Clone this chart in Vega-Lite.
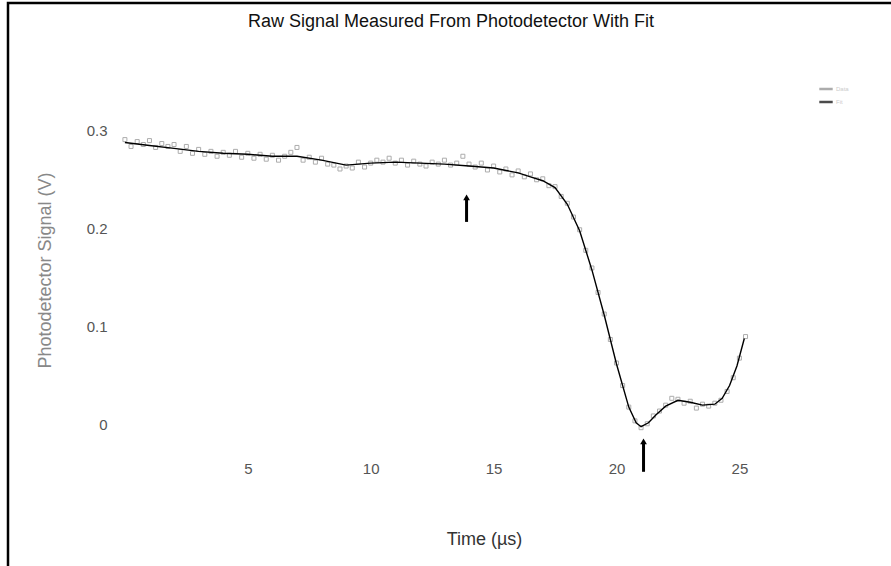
{
  "$schema": "https://vega.github.io/schema/vega-lite/v6.json",
  "width": 886,
  "height": 566,
  "autosize": {"type": "none"},
  "padding": {"left": 8, "top": 3, "right": 0, "bottom": 0},
  "background": "white",
  "title": {
    "text": "Raw Signal Measured From Photodetector With Fit",
    "font": "Liberation Sans",
    "fontSize": 18,
    "fontWeight": "normal",
    "color": "#111111",
    "anchor": "middle",
    "frame": "group",
    "offset": -22,
    "dy": 20,
    "baseline": "alphabetic"
  },
  "config": {
    "view": {"stroke": "black", "strokeWidth": 2.5, "fill": "white"},
    "axis": {"grid": false, "domain": false, "ticks": false, "tickSize": 0,
      "labelFont": "Liberation Sans", "labelFontSize": 15, "labelColor": "#555555",
      "titleFont": "Liberation Sans", "titleFontSize": 18, "titleFontWeight": "normal", "titleColor": "#555555"}
  },
  "datasets": {
    "obs": [
      {"t": 0.00, "v": 0.291}, {"t": 0.25, "v": 0.284}, {"t": 0.50, "v": 0.289}, {"t": 0.75, "v": 0.286},
      {"t": 1.00, "v": 0.290}, {"t": 1.25, "v": 0.283}, {"t": 1.50, "v": 0.287}, {"t": 1.75, "v": 0.284},
      {"t": 2.00, "v": 0.286}, {"t": 2.25, "v": 0.279}, {"t": 2.50, "v": 0.284}, {"t": 2.75, "v": 0.277},
      {"t": 3.00, "v": 0.281}, {"t": 3.25, "v": 0.276}, {"t": 3.50, "v": 0.279}, {"t": 3.75, "v": 0.274},
      {"t": 4.00, "v": 0.278}, {"t": 4.25, "v": 0.275}, {"t": 4.50, "v": 0.279}, {"t": 4.75, "v": 0.273},
      {"t": 5.00, "v": 0.277}, {"t": 5.25, "v": 0.272}, {"t": 5.50, "v": 0.276}, {"t": 5.75, "v": 0.271},
      {"t": 6.00, "v": 0.275}, {"t": 6.25, "v": 0.270}, {"t": 6.50, "v": 0.274}, {"t": 6.75, "v": 0.278},
      {"t": 7.00, "v": 0.283}, {"t": 7.25, "v": 0.270}, {"t": 7.50, "v": 0.273}, {"t": 7.75, "v": 0.268},
      {"t": 8.00, "v": 0.272}, {"t": 8.25, "v": 0.266}, {"t": 8.50, "v": 0.265}, {"t": 8.75, "v": 0.261},
      {"t": 9.00, "v": 0.264}, {"t": 9.25, "v": 0.262}, {"t": 9.50, "v": 0.268}, {"t": 9.75, "v": 0.263},
      {"t": 10.00, "v": 0.267}, {"t": 10.25, "v": 0.270}, {"t": 10.50, "v": 0.268}, {"t": 10.75, "v": 0.272},
      {"t": 11.00, "v": 0.267}, {"t": 11.25, "v": 0.270}, {"t": 11.50, "v": 0.265}, {"t": 11.75, "v": 0.269},
      {"t": 12.00, "v": 0.266}, {"t": 12.25, "v": 0.264}, {"t": 12.50, "v": 0.268}, {"t": 12.75, "v": 0.266},
      {"t": 13.00, "v": 0.270}, {"t": 13.25, "v": 0.265}, {"t": 13.50, "v": 0.267}, {"t": 13.75, "v": 0.274},
      {"t": 14.00, "v": 0.266}, {"t": 14.25, "v": 0.263}, {"t": 14.50, "v": 0.267}, {"t": 14.75, "v": 0.260},
      {"t": 15.00, "v": 0.264}, {"t": 15.25, "v": 0.258}, {"t": 15.50, "v": 0.261}, {"t": 15.75, "v": 0.255},
      {"t": 16.00, "v": 0.259}, {"t": 16.25, "v": 0.253}, {"t": 16.50, "v": 0.256}, {"t": 16.75, "v": 0.250},
      {"t": 17.00, "v": 0.251}, {"t": 17.25, "v": 0.244}, {"t": 17.50, "v": 0.243}, {"t": 17.75, "v": 0.233},
      {"t": 18.00, "v": 0.226}, {"t": 18.25, "v": 0.212}, {"t": 18.50, "v": 0.199}, {"t": 18.75, "v": 0.178},
      {"t": 19.00, "v": 0.160}, {"t": 19.25, "v": 0.135}, {"t": 19.50, "v": 0.113}, {"t": 19.75, "v": 0.087},
      {"t": 20.00, "v": 0.063}, {"t": 20.25, "v": 0.040}, {"t": 20.50, "v": 0.018}, {"t": 20.75, "v": 0.004},
      {"t": 21.00, "v": -0.003}, {"t": 21.25, "v": 0.001}, {"t": 21.50, "v": 0.009}, {"t": 21.75, "v": 0.014},
      {"t": 22.00, "v": 0.020}, {"t": 22.25, "v": 0.027}, {"t": 22.50, "v": 0.026}, {"t": 22.75, "v": 0.022},
      {"t": 23.00, "v": 0.024}, {"t": 23.25, "v": 0.017}, {"t": 23.50, "v": 0.021}, {"t": 23.75, "v": 0.019},
      {"t": 24.00, "v": 0.022}, {"t": 24.25, "v": 0.025}, {"t": 24.50, "v": 0.034}, {"t": 24.75, "v": 0.048},
      {"t": 25.00, "v": 0.068}, {"t": 25.25, "v": 0.090}
    ],
    "fit": [
      {"t": 0, "v": 0.288}, {"t": 1, "v": 0.285}, {"t": 2, "v": 0.282}, {"t": 3, "v": 0.279},
      {"t": 4, "v": 0.277}, {"t": 5, "v": 0.276}, {"t": 6, "v": 0.274}, {"t": 7, "v": 0.274},
      {"t": 8, "v": 0.270}, {"t": 9, "v": 0.265}, {"t": 10, "v": 0.267}, {"t": 11, "v": 0.268},
      {"t": 12, "v": 0.267}, {"t": 13, "v": 0.266}, {"t": 14, "v": 0.264}, {"t": 15, "v": 0.262},
      {"t": 16, "v": 0.257}, {"t": 16.5, "v": 0.253}, {"t": 17, "v": 0.249}, {"t": 17.5, "v": 0.242},
      {"t": 18, "v": 0.225}, {"t": 18.5, "v": 0.198}, {"t": 19, "v": 0.158}, {"t": 19.5, "v": 0.112},
      {"t": 20, "v": 0.062}, {"t": 20.5, "v": 0.018}, {"t": 20.8, "v": 0.002}, {"t": 21.0, "v": -0.002},
      {"t": 21.3, "v": 0.002}, {"t": 21.6, "v": 0.010}, {"t": 22, "v": 0.019}, {"t": 22.5, "v": 0.025},
      {"t": 23, "v": 0.023}, {"t": 23.5, "v": 0.020}, {"t": 24, "v": 0.021}, {"t": 24.3, "v": 0.027},
      {"t": 24.6, "v": 0.040}, {"t": 24.9, "v": 0.060}, {"t": 25.2, "v": 0.088}
    ],
    "arrows": [
      {"t": 13.9, "y0": 0.207, "y1": 0.232},
      {"t": 21.1, "y0": -0.048, "y1": -0.017}
    ]
  },
  "layer": [
    {
      "data": {"name": "obs"},
      "mark": {"type": "point", "shape": "square", "filled": false, "size": 16, "strokeWidth": 1},
      "encoding": {
        "x": {"field": "t", "type": "quantitative", "title": "Time (µs)",
          "scale": {"domain": [-4.756, 31.29], "nice": false, "zero": false},
          "axis": {"values": [5, 10, 15, 20, 25], "offset": -110, "labelPadding": 2,
            "titleX": 476, "titleY": 80, "titleBaseline": "middle", "titleColor": "#333333"}},
        "y": {"field": "v", "type": "quantitative", "title": "Photodetector Signal (V)",
          "scale": {"domain": [-0.1472, 0.4304], "nice": false, "zero": false},
          "axis": {"values": [0, 0.1, 0.2, 0.3], "format": "~g", "offset": -102, "labelPadding": 3,
            "titleX": -65, "titleY": 267, "titleBaseline": "middle", "titleAngle": -90, "titleColor": "#888888"}},
        "color": {"datum": "Data", "type": "nominal",
          "scale": {"domain": ["Data", "Fit"], "range": ["#8a8a8a", "#000000"]},
          "legend": {"orient": "none", "legendX": 810, "legendY": 78, "title": null,
            "symbolType": "stroke", "symbolStrokeWidth": 2.5, "symbolSize": 180,
            "labelFontSize": 6, "labelColor": "#cccccc", "rowPadding": 0, "labelOffset": 2}}
      }
    },
    {
      "data": {"name": "fit"},
      "mark": {"type": "line", "strokeWidth": 1.4},
      "encoding": {
        "x": {"field": "t", "type": "quantitative", "title": "Time (µs)"},
        "y": {"field": "v", "type": "quantitative", "title": "Photodetector Signal (V)"},
        "color": {"datum": "Fit", "type": "nominal"}
      }
    },
    {
      "data": {"name": "arrows"},
      "mark": {"type": "rule", "strokeWidth": 3, "color": "black"},
      "encoding": {
        "x": {"field": "t", "type": "quantitative", "title": "Time (µs)"},
        "y": {"field": "y0", "type": "quantitative", "title": "Photodetector Signal (V)"},
        "y2": {"field": "y1"}
      }
    },
    {
      "data": {"name": "arrows"},
      "mark": {"type": "point", "shape": "triangle-up", "filled": true, "size": 45, "color": "black", "opacity": 1},
      "encoding": {
        "x": {"field": "t", "type": "quantitative", "title": "Time (µs)"},
        "y": {"field": "y1", "type": "quantitative", "title": "Photodetector Signal (V)"}
      }
    }
  ]
}
